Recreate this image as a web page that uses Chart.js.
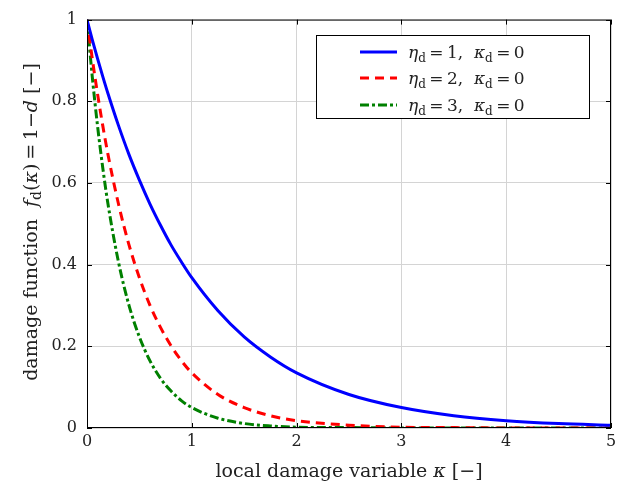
<!DOCTYPE html>
<html>
<head>
<meta charset="utf-8">
<script src="https://cdn.jsdelivr.net/npm/chart.js@4"></script>
<style>
  html, body { margin: 0; padding: 0; background: #fff; }
  #wrap { width: 622px; height: 486px; }
</style>
</head>
<body>
<div id="wrap"><canvas id="damageChart" width="622" height="486"></canvas></div>
<script>
// damage function f_d(kappa) for three softening exponents
const kappa = [0, 0.05, 0.1, 0.15, 0.2, 0.3, 0.4, 0.5, 0.6, 0.7, 0.8, 0.9, 1.0, 1.25, 1.5, 1.75, 2.0, 2.5, 3.0, 3.5, 4.0, 4.5, 5.0];
const fEta1 = [1, 0.951, 0.905, 0.861, 0.819, 0.741, 0.670, 0.607, 0.549, 0.497, 0.449, 0.407, 0.368, 0.287, 0.223, 0.174, 0.135, 0.082, 0.050, 0.030, 0.018, 0.011, 0.007];
const fEta2 = [1, 0.905, 0.819, 0.741, 0.670, 0.549, 0.449, 0.368, 0.301, 0.247, 0.202, 0.165, 0.135, 0.082, 0.050, 0.030, 0.018, 0.007, 0.002, 0.001, 0.000, 0.000, 0.000];
const fEta3 = [1, 0.861, 0.741, 0.638, 0.549, 0.407, 0.301, 0.223, 0.165, 0.122, 0.091, 0.067, 0.050, 0.024, 0.011, 0.005, 0.002, 0.001, 0.000, 0.000, 0.000, 0.000, 0.000];
const etaValues = ['1', '2', '3'];
const xTicks = [0, 1, 2, 3, 4, 5];
const yTicks = [0, 0.2, 0.4, 0.6, 0.8, 1];

const FONT = "'DejaVu Serif', 'Liberation Serif', serif";
const COLORS = ['#0000ff', '#ff0000', '#008000'];
const DASHES = [[], [9, 6], [9, 3, 3, 3]];
const TS = '\u2009'; // thin space around relations

const pts = ys => kappa.map((k, i) => ({ x: k, y: ys[i] }));

// draw a run of math-ish text: italics and subscripts
function drawRuns(ctx, runs, x, y, size, align) {
  const fontFor = r => (r.it ? 'italic ' : '') + (r.sub ? Math.round(size * 0.72) : size) + 'px ' + FONT;
  let total = 0;
  runs.forEach(r => { ctx.font = fontFor(r); total += ctx.measureText(r.t).width; });
  let cx = align === 'center' ? x - total / 2 : x;
  ctx.textBaseline = 'alphabetic';
  ctx.textAlign = 'left';
  runs.forEach(r => {
    ctx.font = fontFor(r);
    ctx.fillText(r.t, cx, y + (r.sub ? size * 0.22 : 0));
    cx += ctx.measureText(r.t).width;
  });
}

const frame = {
  id: 'frame',
  afterDraw(chart) {
    const { ctx, chartArea: a, scales } = chart;
    ctx.save();
    ctx.strokeStyle = '#000';
    ctx.lineWidth = 1;
    ctx.strokeRect(a.left + 0.5, a.top + 0.5, a.right - a.left - 1, a.bottom - a.top - 1);
    // inward ticks on all four sides
    ctx.beginPath();
    xTicks.forEach(v => {
      const px = Math.round(scales.x.getPixelForValue(v)) + 0.5;
      ctx.moveTo(px, a.bottom); ctx.lineTo(px, a.bottom - 5);
      ctx.moveTo(px, a.top); ctx.lineTo(px, a.top + 5);
    });
    yTicks.forEach(v => {
      const py = Math.round(scales.y.getPixelForValue(v)) + 0.5;
      ctx.moveTo(a.left, py); ctx.lineTo(a.left + 5, py);
      ctx.moveTo(a.right, py); ctx.lineTo(a.right - 5, py);
    });
    ctx.stroke();

    ctx.fillStyle = '#222';
    // x title
    drawRuns(ctx, [{ t: 'local damage variable ' }, { t: 'κ', it: true }, { t: ' [−]' }],
      (a.left + a.right) / 2, 477, 19, 'center');
    // y title
    ctx.save();
    ctx.translate(37, 222);
    ctx.rotate(-Math.PI / 2);
    drawRuns(ctx, [{ t: 'damage function  ' }, { t: 'f', it: true }, { t: 'd', sub: true }, { t: '(' },
      { t: 'κ', it: true }, { t: ')' + TS + '=' + TS + '1−' }, { t: 'd', it: true }, { t: ' [−]' }], 0, 0, 19, 'center');
    ctx.restore();

    // legend
    ctx.fillStyle = '#fff';
    ctx.fillRect(316, 35, 274, 84);
    ctx.strokeStyle = '#000';
    ctx.strokeRect(316.5, 35.5, 273, 83);
    const rows = [52, 78, 105];
    etaValues.forEach((eta, i) => {
      ctx.strokeStyle = COLORS[i];
      ctx.lineWidth = 3;
      ctx.setLineDash(DASHES[i]);
      ctx.beginPath();
      ctx.moveTo(360, rows[i]); ctx.lineTo(397, rows[i]);
      ctx.stroke();
      ctx.setLineDash([]);
      ctx.fillStyle = '#222';
      drawRuns(ctx, [{ t: 'η', it: true }, { t: 'd', sub: true }, { t: TS + '=' + TS + eta + ',  ' },
        { t: 'κ', it: true }, { t: 'd', sub: true }, { t: TS + '=' + TS + '0' }], 408, rows[i] + 6, 17, 'left');
    });
    ctx.restore();
  }
};

new Chart(document.getElementById('damageChart').getContext('2d'), {
  type: 'line',
  data: {
    datasets: [fEta1, fEta2, fEta3].map((ys, i) => ({
      label: 'eta_d=' + etaValues[i],
      data: pts(ys),
      borderColor: COLORS[i],
      borderWidth: 3,
      borderDash: DASHES[i],
      pointRadius: 0,
      fill: false,
      cubicInterpolationMode: 'monotone',
    }))
  },
  options: {
    responsive: false,
    animation: false,
    layout: { padding: { top: 14, right: 11, left: 0, bottom: 0 } },
    plugins: { legend: { display: false }, tooltip: { enabled: false } },
    scales: {
      x: {
        type: 'linear', min: 0, max: 5,
        afterBuildTicks: s => { s.ticks = xTicks.map(v => ({ value: v })); },
        afterFit: s => { s.height = 58; },
        grid: { color: '#d4d4d4', drawTicks: false },
        border: { display: false },
        ticks: { color: '#222', font: { family: FONT, size: 16 }, padding: 4, maxRotation: 0 }
      },
      y: {
        min: 0, max: 1,
        afterBuildTicks: s => { s.ticks = yTicks.map(v => ({ value: v })); },
        afterFit: s => { s.width = 87; },
        grid: { color: '#d4d4d4', drawTicks: false },
        border: { display: false },
        ticks: { color: '#222', font: { family: FONT, size: 16 }, padding: 10, callback: v => String(v) }
      }
    }
  },
  plugins: [frame]
});
</script>
</body>
</html>
